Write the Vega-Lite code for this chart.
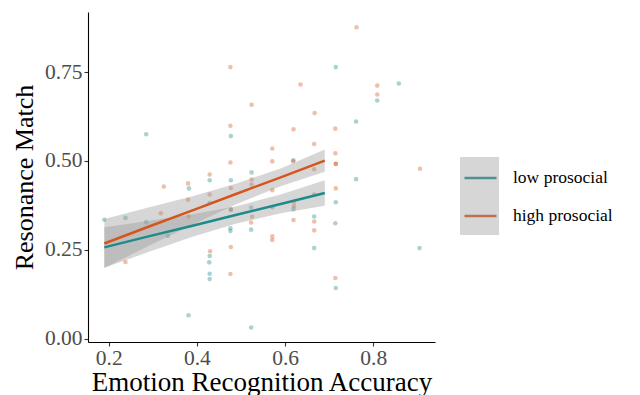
{
  "$schema": "https://vega.github.io/schema/vega-lite/v6.json",
  "width": 347,
  "height": 330,
  "autosize": {"type": "none"},
  "padding": {"left": 88, "top": 12, "right": 205, "bottom": 53},
  "background": "white",
  "config": {
    "view": {"stroke": null},
    "font": "Liberation Serif",
    "axis": {
      "grid": false,
      "domainColor": "#000000",
      "domainWidth": 1.1,
      "tickColor": "#333333",
      "tickWidth": 1.1,
      "tickSize": 4,
      "labelFont": "Liberation Serif",
      "labelFontSize": 21.5,
      "labelColor": "#4D4D4D",
      "titleFont": "Liberation Serif",
      "titleFontWeight": "normal",
      "titleColor": "#000000"
    }
  },
  "datasets": {
    "pts": [
      {"acc": 0.285, "res": 0.575, "group": "low prosocial"},
      {"acc": 0.477, "res": 0.570, "group": "low prosocial"},
      {"acc": 0.524, "res": 0.468, "group": "low prosocial"},
      {"acc": 0.429, "res": 0.446, "group": "low prosocial"},
      {"acc": 0.477, "res": 0.446, "group": "low prosocial"},
      {"acc": 0.715, "res": 0.764, "group": "low prosocial"},
      {"acc": 0.809, "res": 0.670, "group": "low prosocial"},
      {"acc": 0.858, "res": 0.718, "group": "low prosocial"},
      {"acc": 0.761, "res": 0.611, "group": "low prosocial"},
      {"acc": 0.619, "res": 0.502, "group": "low prosocial"},
      {"acc": 0.761, "res": 0.449, "group": "low prosocial"},
      {"acc": 0.382, "res": 0.423, "group": "low prosocial"},
      {"acc": 0.429, "res": 0.382, "group": "low prosocial"},
      {"acc": 0.190, "res": 0.335, "group": "low prosocial"},
      {"acc": 0.238, "res": 0.340, "group": "low prosocial"},
      {"acc": 0.285, "res": 0.328, "group": "low prosocial"},
      {"acc": 0.334, "res": 0.290, "group": "low prosocial"},
      {"acc": 0.477, "res": 0.362, "group": "low prosocial"},
      {"acc": 0.523, "res": 0.369, "group": "low prosocial"},
      {"acc": 0.523, "res": 0.307, "group": "low prosocial"},
      {"acc": 0.476, "res": 0.311, "group": "low prosocial"},
      {"acc": 0.476, "res": 0.303, "group": "low prosocial"},
      {"acc": 0.429, "res": 0.233, "group": "low prosocial"},
      {"acc": 0.428, "res": 0.215, "group": "low prosocial"},
      {"acc": 0.429, "res": 0.183, "group": "low prosocial"},
      {"acc": 0.429, "res": 0.168, "group": "low prosocial"},
      {"acc": 0.381, "res": 0.066, "group": "low prosocial"},
      {"acc": 0.523, "res": 0.032, "group": "low prosocial"},
      {"acc": 0.715, "res": 0.384, "group": "low prosocial"},
      {"acc": 0.571, "res": 0.370, "group": "low prosocial"},
      {"acc": 0.619, "res": 0.364, "group": "low prosocial"},
      {"acc": 0.666, "res": 0.344, "group": "low prosocial"},
      {"acc": 0.714, "res": 0.325, "group": "low prosocial"},
      {"acc": 0.666, "res": 0.255, "group": "low prosocial"},
      {"acc": 0.905, "res": 0.255, "group": "low prosocial"},
      {"acc": 0.715, "res": 0.143, "group": "low prosocial"},
      {"acc": 0.476, "res": 0.764, "group": "high prosocial"},
      {"acc": 0.524, "res": 0.658, "group": "high prosocial"},
      {"acc": 0.476, "res": 0.599, "group": "high prosocial"},
      {"acc": 0.476, "res": 0.496, "group": "high prosocial"},
      {"acc": 0.429, "res": 0.462, "group": "high prosocial"},
      {"acc": 0.524, "res": 0.448, "group": "high prosocial"},
      {"acc": 0.762, "res": 0.876, "group": "high prosocial"},
      {"acc": 0.635, "res": 0.715, "group": "high prosocial"},
      {"acc": 0.809, "res": 0.712, "group": "high prosocial"},
      {"acc": 0.809, "res": 0.687, "group": "high prosocial"},
      {"acc": 0.667, "res": 0.635, "group": "high prosocial"},
      {"acc": 0.619, "res": 0.589, "group": "high prosocial"},
      {"acc": 0.714, "res": 0.591, "group": "high prosocial"},
      {"acc": 0.571, "res": 0.535, "group": "high prosocial"},
      {"acc": 0.666, "res": 0.548, "group": "high prosocial"},
      {"acc": 0.571, "res": 0.499, "group": "high prosocial"},
      {"acc": 0.618, "res": 0.499, "group": "high prosocial"},
      {"acc": 0.714, "res": 0.522, "group": "high prosocial"},
      {"acc": 0.715, "res": 0.492, "group": "high prosocial"},
      {"acc": 0.715, "res": 0.492, "group": "high prosocial"},
      {"acc": 0.666, "res": 0.477, "group": "high prosocial"},
      {"acc": 0.906, "res": 0.478, "group": "high prosocial"},
      {"acc": 0.325, "res": 0.428, "group": "high prosocial"},
      {"acc": 0.380, "res": 0.437, "group": "high prosocial"},
      {"acc": 0.429, "res": 0.406, "group": "high prosocial"},
      {"acc": 0.477, "res": 0.424, "group": "high prosocial"},
      {"acc": 0.524, "res": 0.434, "group": "high prosocial"},
      {"acc": 0.380, "res": 0.391, "group": "high prosocial"},
      {"acc": 0.318, "res": 0.353, "group": "high prosocial"},
      {"acc": 0.381, "res": 0.344, "group": "high prosocial"},
      {"acc": 0.477, "res": 0.365, "group": "high prosocial"},
      {"acc": 0.525, "res": 0.343, "group": "high prosocial"},
      {"acc": 0.523, "res": 0.327, "group": "high prosocial"},
      {"acc": 0.238, "res": 0.216, "group": "high prosocial"},
      {"acc": 0.430, "res": 0.246, "group": "high prosocial"},
      {"acc": 0.477, "res": 0.258, "group": "high prosocial"},
      {"acc": 0.476, "res": 0.182, "group": "high prosocial"},
      {"acc": 0.715, "res": 0.423, "group": "high prosocial"},
      {"acc": 0.571, "res": 0.418, "group": "high prosocial"},
      {"acc": 0.666, "res": 0.406, "group": "high prosocial"},
      {"acc": 0.620, "res": 0.385, "group": "high prosocial"},
      {"acc": 0.620, "res": 0.373, "group": "high prosocial"},
      {"acc": 0.619, "res": 0.334, "group": "high prosocial"},
      {"acc": 0.666, "res": 0.330, "group": "high prosocial"},
      {"acc": 0.666, "res": 0.305, "group": "high prosocial"},
      {"acc": 0.571, "res": 0.288, "group": "high prosocial"},
      {"acc": 0.571, "res": 0.278, "group": "high prosocial"},
      {"acc": 0.714, "res": 0.171, "group": "high prosocial"}
    ],
    "fits": [
      {"acc": 0.19, "fit": 0.257, "lo": 0.200, "hi": 0.314, "group": "low prosocial", "band": "low"},
      {"acc": 0.29, "fit": 0.288, "lo": 0.244, "hi": 0.331, "group": "low prosocial", "band": "low"},
      {"acc": 0.39, "fit": 0.318, "lo": 0.287, "hi": 0.350, "group": "low prosocial", "band": "low"},
      {"acc": 0.49, "fit": 0.349, "lo": 0.324, "hi": 0.373, "group": "low prosocial", "band": "low"},
      {"acc": 0.59, "fit": 0.379, "lo": 0.353, "hi": 0.406, "group": "low prosocial", "band": "low"},
      {"acc": 0.69, "fit": 0.410, "lo": 0.374, "hi": 0.446, "group": "low prosocial", "band": "low"},
      {"acc": 0.19, "fit": 0.268, "lo": 0.199, "hi": 0.337, "group": "high prosocial", "band": "high"},
      {"acc": 0.29, "fit": 0.315, "lo": 0.261, "hi": 0.369, "group": "high prosocial", "band": "high"},
      {"acc": 0.39, "fit": 0.361, "lo": 0.321, "hi": 0.401, "group": "high prosocial", "band": "high"},
      {"acc": 0.49, "fit": 0.408, "lo": 0.379, "hi": 0.437, "group": "high prosocial", "band": "high"},
      {"acc": 0.59, "fit": 0.454, "lo": 0.429, "hi": 0.479, "group": "high prosocial", "band": "high"},
      {"acc": 0.69, "fit": 0.501, "lo": 0.470, "hi": 0.532, "group": "high prosocial", "band": "high"}
    ]
  },
  "layer": [
    {
      "data": {"name": "pts"},
      "mark": {"type": "circle", "size": 21, "opacity": 0.38},
      "encoding": {
        "x": {"field": "acc", "type": "quantitative",
              "scale": {"domain": [0.153, 0.94], "nice": false, "zero": false},
              "axis": {"title": "Emotion Recognition Accuracy", "titleFontSize": 27, "values": [0.2, 0.4, 0.6, 0.8], "format": ".1f", "labelPadding": 1, "titlePadding": 1}},
        "y": {"field": "res", "type": "quantitative",
              "scale": {"domain": [-0.009, 0.919], "nice": false, "zero": false},
              "axis": {"title": "Resonance Match", "titleFontSize": 26, "values": [0, 0.25, 0.5, 0.75], "format": ".2f", "labelPadding": 2, "titlePadding": 7}},
        "color": {"field": "group", "type": "nominal",
                  "scale": {"domain": ["low prosocial", "high prosocial"], "range": ["#1E8A8A", "#D4561E"]},
                  "legend": {"title": null, "orient": "none", "legendX": 375, "legendY": 148.5,
                             "symbolType": "stroke", "symbolSize": 1024, "symbolStrokeWidth": 2.5, "symbolOpacity": 1,
                             "labelFont": "Liberation Serif", "labelFontSize": 17.5, "labelColor": "#000000",
                             "labelOffset": 15, "rowPadding": 12, "padding": 0}}
      }
    },
    {
      "data": {"name": "fits"},
      "mark": {"type": "area", "opacity": 0.4},
      "encoding": {
        "x": {"field": "acc", "type": "quantitative"},
        "y": {"field": "lo", "type": "quantitative"},
        "y2": {"field": "hi"},
        "fill": {"field": "band", "type": "nominal",
                 "scale": {"domain": ["low", "high"], "range": ["#999999", "#999999"]},
                 "legend": {"title": null, "orient": "none", "legendX": 372, "legendY": 145,
                            "symbolType": "square", "symbolSize": 1521, "symbolStrokeWidth": 0, "symbolOpacity": 0.4,
                            "labelExpr": "''", "labelFontSize": 1, "rowPadding": 0, "padding": 0}}
      }
    },
    {
      "data": {"name": "fits"},
      "mark": {"type": "line", "strokeWidth": 2.5},
      "encoding": {
        "x": {"field": "acc", "type": "quantitative"},
        "y": {"field": "fit", "type": "quantitative"},
        "color": {"field": "group", "type": "nominal"}
      }
    }
  ]
}
